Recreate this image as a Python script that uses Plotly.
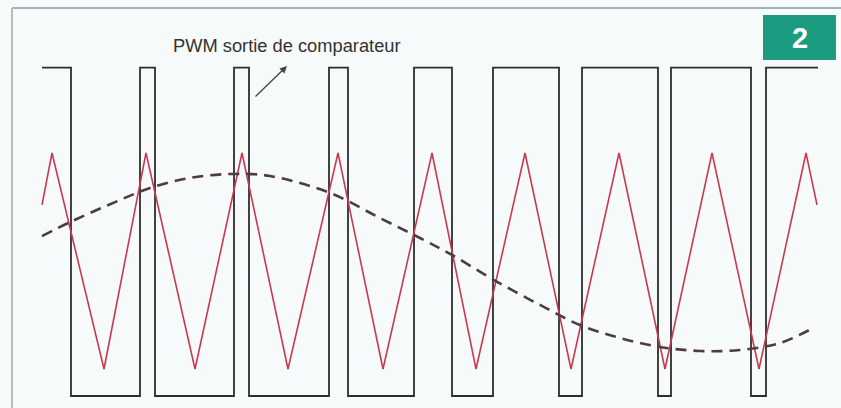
import plotly.graph_objects as go

W, H = 841, 408

# Triangle carrier (time units, amplitude units: peak=+1, trough=-1)
tri_t = [42, 52, 104, 146, 195, 242, 288, 338, 383, 432, 476, 525, 571, 619, 665, 712, 759, 806, 817]
tri_v = [0.52, 1, -1, 1, -1, 1, -1, 1, -1, 1, -1, 1, -1, 1, -1, 1, -1, 1, 0.52]

# Modulating signal (dashed), read point by point
sig_t = [42, 70, 120, 150, 190, 232, 270, 330, 380, 420, 452, 494, 540, 580, 620, 660, 700, 740, 780, 815]
sig_v = [0.23, 0.36, 0.565, 0.676, 0.769, 0.806, 0.787, 0.63, 0.398, 0.213, 0.056, -0.176,
         -0.407, -0.593, -0.713, -0.796, -0.833, -0.824, -0.759, -0.611]

# PWM comparator output: switching instants and levels
pwm_high, pwm_low = 1.79, -1.25
pwm_t = [42, 71, 140, 155, 234, 249, 329, 348, 414, 452, 493, 559, 582, 658, 671, 751, 766, 818]
pwm_state = [1, 0, 1, 0, 1, 0, 1, 0, 1, 0, 1, 0, 1, 0, 1, 0, 1, 1]
pwm_v = [pwm_high if s else pwm_low for s in pwm_state]

fig = go.Figure()
fig.add_trace(go.Scatter(x=pwm_t, y=pwm_v, mode="lines", line=dict(color="#2e2e2e", width=1.8, shape="hv"),
                         hoverinfo="skip", showlegend=False))
fig.add_trace(go.Scatter(x=tri_t, y=tri_v, mode="lines", line=dict(color="#c83a50", width=1.6),
                         hoverinfo="skip", showlegend=False))
fig.add_trace(go.Scatter(x=sig_t, y=sig_v, mode="lines",
                         line=dict(color="#4d3d3d", width=2.6, dash="11px,7px", shape="spline", smoothing=1.0),
                         hoverinfo="skip", showlegend=False))

def px(x):
    return x / W

def py(y):
    return 1 - y / H

shapes = [
    # frame
    dict(type="line", xref="paper", yref="paper", x0=px(12), x1=1, y0=py(8), y1=py(8),
         line=dict(color="#a3b2b2", width=2)),
    dict(type="line", xref="paper", yref="paper", x0=px(12), x1=px(12), y0=py(8), y1=0,
         line=dict(color="#b3c0c0", width=2)),
    # badge
    dict(type="rect", xref="paper", yref="paper", x0=px(763), x1=px(836), y0=py(60), y1=py(15),
         fillcolor="#1b9c80", line=dict(width=0)),
]

annotations = [
    dict(xref="paper", yref="paper", x=px(800), y=py(38), text="<b>2</b>", showarrow=False,
         font=dict(family="Liberation Sans, Arial", size=29, color="white"), xanchor="center", yanchor="middle"),
    dict(xref="paper", yref="paper", x=px(171), y=py(45), text="PWM sortie de comparateur", showarrow=False,
         font=dict(family="Liberation Sans, Arial", size=18.3, color="#333333"), xanchor="left", yanchor="middle"),
    dict(xref="paper", yref="paper", x=px(287), y=py(66), axref="pixel", ayref="pixel", ax=-33, ay=32,
         text="", showarrow=True, arrowhead=2, arrowsize=1.1, arrowwidth=1.3, arrowcolor="#444444"),
]

fig.update_layout(
    width=W, height=H,
    margin=dict(l=0, r=0, t=0, b=0),
    paper_bgcolor="#f7fafa", plot_bgcolor="rgba(0,0,0,0)",
    xaxis=dict(range=[0, W], visible=False, fixedrange=True),
    yaxis=dict(range=[-147 / 108, 261 / 108], visible=False, fixedrange=True),
    shapes=shapes, annotations=annotations,
)

fig.write_html("out.html", config={"displayModeBar": False},
               post_script="document.body.style.margin='0';document.body.style.overflow='hidden';")
